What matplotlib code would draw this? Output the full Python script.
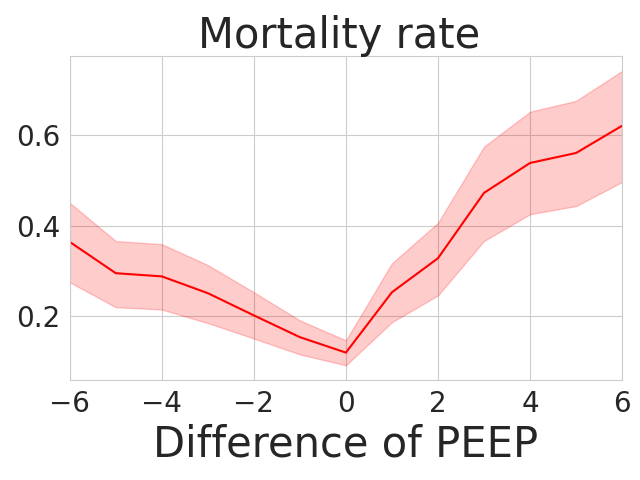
import numpy as np
import matplotlib
matplotlib.use("Agg")
import matplotlib.pyplot as plt
import seaborn as sns

peep_diff = [-6, -5, -4, -3, -2, -1, 0, 1, 2, 3, 4, 5, 6]
mortality = [0.364, 0.295, 0.288, 0.251, 0.202, 0.154, 0.120,
             0.253, 0.328, 0.472, 0.538, 0.560, 0.620]
upper = [0.450, 0.366, 0.359, 0.313, 0.253, 0.191, 0.147,
         0.317, 0.406, 0.574, 0.651, 0.675, 0.741]
lower = [0.275, 0.220, 0.215, 0.185, 0.151, 0.116, 0.092,
         0.187, 0.246, 0.366, 0.425, 0.443, 0.496]

sns.set_style("whitegrid")

fig, ax = plt.subplots(figsize=(6.4, 4.8), dpi=100)
ax.plot(peep_diff, mortality, color="red")
ax.fill_between(peep_diff, lower, upper, color="red", alpha=0.2)
ax.set_xlim(-6, 6)
ax.set_title("Mortality rate ", fontsize=30)
ax.set_xlabel("Difference of PEEP", fontsize=30)
ax.tick_params(labelsize=20)

fig.subplots_adjust(left=0.109, right=0.972, top=0.883, bottom=0.2083)
fig.savefig("out.png")
